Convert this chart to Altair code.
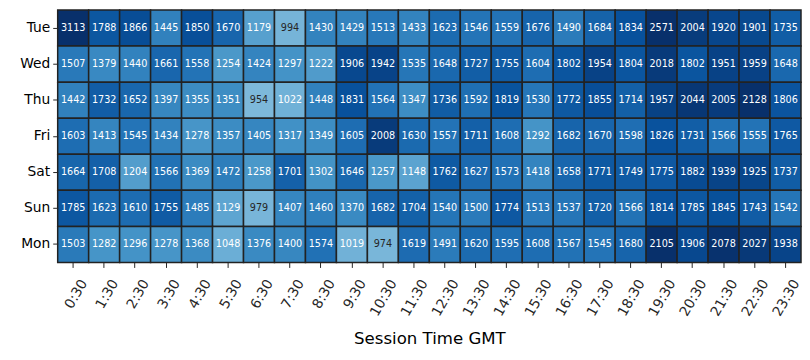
import altair as alt
import pandas as pd

days = ["Tue", "Wed", "Thu", "Fri", "Sat", "Sun", "Mon"]
times = [f"{h}:30" for h in range(24)]

tue = [3113, 1788, 1866, 1445, 1850, 1670, 1179, 994, 1430, 1429, 1513, 1433, 1623, 1546, 1559, 1676, 1490, 1684, 1834, 2571, 2004, 1920, 1901, 1735]
wed = [1507, 1379, 1440, 1661, 1558, 1254, 1424, 1297, 1222, 1906, 1942, 1535, 1648, 1727, 1755, 1604, 1802, 1954, 1804, 2018, 1802, 1951, 1959, 1648]
thu = [1442, 1732, 1652, 1397, 1355, 1351, 954, 1022, 1448, 1831, 1564, 1347, 1736, 1592, 1819, 1530, 1772, 1855, 1714, 1957, 2044, 2005, 2128, 1806]
fri = [1603, 1413, 1545, 1434, 1278, 1357, 1405, 1317, 1349, 1605, 2008, 1630, 1557, 1711, 1608, 1292, 1682, 1670, 1598, 1826, 1731, 1566, 1555, 1765]
sat = [1664, 1708, 1204, 1566, 1369, 1472, 1258, 1701, 1302, 1646, 1257, 1148, 1762, 1627, 1573, 1418, 1658, 1771, 1749, 1775, 1882, 1939, 1925, 1737]
sun = [1785, 1623, 1610, 1755, 1485, 1129, 979, 1407, 1460, 1370, 1682, 1704, 1540, 1500, 1774, 1513, 1537, 1720, 1566, 1814, 1785, 1845, 1743, 1542]
mon = [1503, 1282, 1296, 1278, 1368, 1048, 1376, 1400, 1574, 1019, 974, 1619, 1491, 1620, 1595, 1608, 1567, 1545, 1680, 2105, 1906, 2078, 2027, 1938]

rows_data = [tue, wed, thu, fri, sat, sun, mon]
records = []
for d, vals in zip(days, rows_data):
    for t, v in zip(times, vals):
        records.append({"day": d, "time": t, "count": v})
df = pd.DataFrame(records)

blues = ["#f7fbff", "#deebf7", "#c6dbef", "#9ecae1", "#6baed6",
         "#4292c6", "#2171b5", "#08519c", "#08306b"]
vmax = 2096
dom = [vmax * i / 8 for i in range(9)]

FONT = "DejaVu Sans"

base = alt.Chart(df).encode(
    x=alt.X("time:N", sort=times, title="Session Time GMT",
            scale=alt.Scale(paddingInner=0, paddingOuter=0),
            axis=alt.Axis(labelAngle=300, labelAlign="right", labelBaseline="middle",
                          labelOffset=11,
                          labelFontSize=13.9, labelFont=FONT, labelColor="#262626",
                          tickColor="#262626", tickSize=5, labelPadding=13,
                          domain=False, titleFont=FONT, titleFontSize=16.7,
                          titleFontWeight="normal", titleColor="black",
                          titlePadding=12)),
    y=alt.Y("day:N", sort=days, title=None,
            scale=alt.Scale(paddingInner=0, paddingOuter=0),
            axis=alt.Axis(labelFontSize=13.9, labelFont=FONT, labelColor="black",
                          tickColor="#262626", tickSize=5, labelPadding=3,
                          domain=False)),
)

rect = base.mark_rect(stroke="#222222", strokeWidth=1.5).encode(
    color=alt.Color("count:Q", legend=None,
                    scale=alt.Scale(domain=dom, range=blues, clamp=True,
                                    interpolate="rgb"))
)

text = base.mark_text(font=FONT, fontSize=9.7).encode(
    text="count:Q",
    color=alt.condition(alt.datum.count < 1000, alt.value("#262626"), alt.value("white")),
)

chart = (rect + text).properties(
    width=748, height=254,
    padding={"left": 11, "top": 0, "right": 0, "bottom": 0},
).configure_view(stroke=None)

chart.save("out.html", embed_options={"renderer": "svg", "actions": False})
